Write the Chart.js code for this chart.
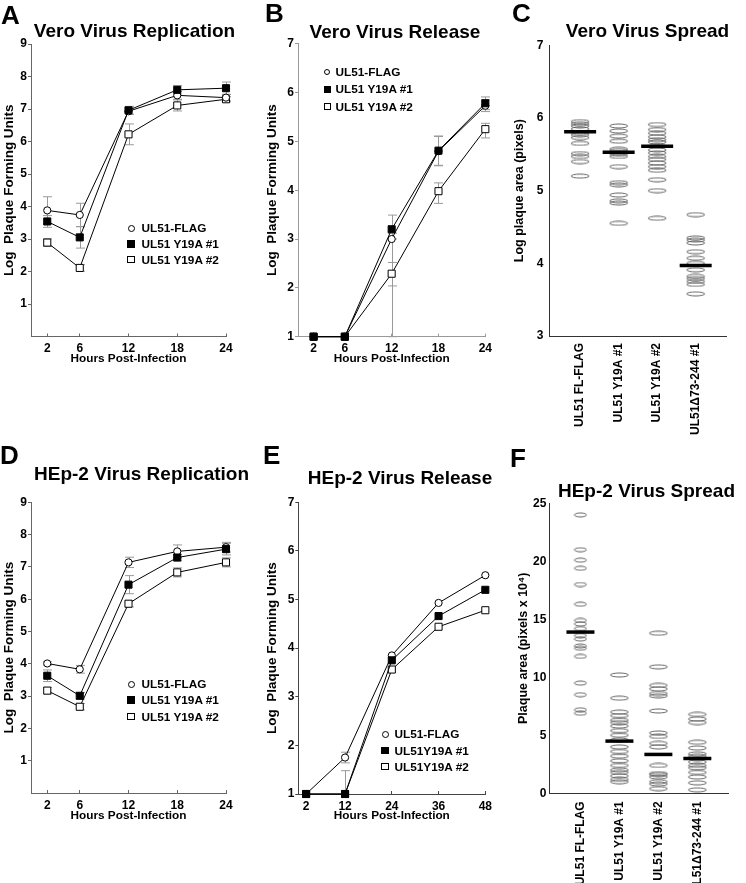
<!DOCTYPE html>
<html><head><meta charset="utf-8">
<script src="https://cdn.jsdelivr.net/npm/chart.js@4.4.1/dist/chart.umd.min.js"></script>
<style>
html,body{margin:0;padding:0;background:#fff;}
body{width:746px;height:883px;position:relative;overflow:hidden;font-family:'Liberation Sans',Arial,Helvetica,sans-serif;}
canvas{position:absolute;z-index:1;}
.t{position:absolute;font-weight:bold;color:#000;white-space:nowrap;z-index:2;}
.letter{font-size:26px;line-height:26px;}
.title{font-size:19px;line-height:19px;width:300px;text-align:center;}
.lg{font-size:11.8px;line-height:14px;}
.mk{position:absolute;box-sizing:border-box;border:1px solid #000;background:#fff;z-index:2;}
</style></head><body>
<div class="t letter" style="left:1px;top:1.6px">A</div>
<div class="t letter" style="left:265px;top:0px">B</div>
<div class="t letter" style="left:512px;top:0px">C</div>
<div class="t letter" style="left:0px;top:441.6px">D</div>
<div class="t letter" style="left:263px;top:441.6px">E</div>
<div class="t letter" style="left:510px;top:445px">F</div>
<div class="t title" style="left:-15.5px;top:21px">Vero Virus Replication</div>
<div class="t title" style="left:245px;top:21.9px">Vero Virus Release</div>
<div class="t title" style="left:497.5px;top:21px">Vero Virus Spread</div>
<div class="t title" style="left:-8.5px;top:464.4px">HEp-2 Virus Replication</div>
<div class="t title" style="left:250px;top:468.4px">HEp-2 Virus Release</div>
<div class="t title" style="left:496.5px;top:480.7px">HEp-2 Virus Spread</div>
<canvas id="cA" width="250" height="400" style="left:0;top:0"></canvas>
<canvas id="cB" width="250" height="400" style="left:250px;top:0"></canvas>
<canvas id="cC" width="246" height="440" style="left:500px;top:0"></canvas>
<canvas id="cD" width="250" height="443" style="left:0;top:440px"></canvas>
<canvas id="cE" width="250" height="443" style="left:250px;top:440px"></canvas>
<canvas id="cF" width="246" height="443" style="left:500px;top:440px"></canvas>
<script>
// ---------------- DATA ----------------
const hoursVero = [2, 6, 12, 18, 24];
const hoursHEpRelease = [2, 12, 24, 36, 48];
const seriesNames = ['UL51-FLAG', 'UL51 Y19A #1', 'UL51 Y19A #2'];
const seriesNamesE = ['UL51-FLAG', 'UL51Y19A #1', 'UL51Y19A #2'];
const yTicksReplication = [1, 2, 3, 4, 5, 6, 7, 8, 9];
const yTicksRelease = [1, 2, 3, 4, 5, 6, 7];

// A: Vero replication (log PFU)
const aFlag = [3.88, 3.74, 6.93, 7.42, 7.35];
const aY1 = [3.54, 3.05, 6.96, 7.59, 7.64];
const aY2 = [2.89, 2.11, 6.22, 7.11, 7.30];
const aFlagErr = [0.42, 0.36, 0.10, 0.12, 0.10];
const aY1Err = [0.18, 0.33, 0.12, 0.13, 0.19];
const aY2Err = [0.12, 0.10, 0.32, 0.17, 0.08];

// B: Vero release (log PFU)
const bFlag = [1, 1, 3.00, 4.80, 5.73];
const bY1 = [1, 1, 3.20, 4.81, 5.78];
const bY2 = [1, 1, 2.29, 3.98, 5.25];
const bFlagErrUp = [0, 0, 0.12, 0.30, 0.12];
const bFlagErrDown = [0, 0, 2.00, 0.30, 0.12];
const bY1ErrUp = [0, 0, 0.29, 0.30, 0.13];
const bY1ErrDown = [0, 0, 0.20, 0.30, 0.13];
const bY2ErrUp = [0, 0, 0.23, 0.17, 0.12];
const bY2ErrDown = [0, 0, 0.25, 0.25, 0.18];

// C: Vero spread (log plaque area)
const spreadCategories = ['UL51 FL-FLAG', 'UL51 Y19A #1', 'UL51 Y19A #2', 'UL51\u039473-244 #1'];
const cFlag = [5.95, 5.92, 5.89, 5.85, 5.80, 5.77, 5.73, 5.65, 5.51, 5.47, 5.40, 5.20];
const cY1 = [5.89, 5.82, 5.75, 5.68, 5.57, 5.55, 5.52, 5.50, 5.47, 5.33, 5.11, 5.08, 4.94, 4.86, 4.83, 4.55];
const cY2 = [5.91, 5.84, 5.79, 5.74, 5.70, 5.67, 5.61, 5.56, 5.52, 5.47, 5.43, 5.38, 5.33, 5.28, 5.15, 5.00, 4.62];
const cDel = [4.67, 4.35, 4.32, 4.28, 4.16, 4.07, 4.00, 3.91, 3.82, 3.79, 3.75, 3.71, 3.58];
const cMedians = [5.81, 5.53, 5.61, 3.97];
const yTicksC = [3, 4, 5, 6, 7];

// D: HEp-2 replication (log PFU)
const dFlag = [4.01, 3.83, 7.14, 7.48, 7.61];
const dY1 = [3.63, 3.01, 6.45, 7.29, 7.55];
const dY2 = [3.17, 2.67, 5.86, 6.83, 7.14];
const dFlagErr = [0.05, 0.12, 0.16, 0.20, 0.15];
const dY1Err = [0.18, 0.10, 0.28, 0.10, 0.18];
const dY2Err = [0.10, 0.10, 0.10, 0.14, 0.14];

// E: HEp-2 release (log PFU)
const eFlag = [1, 1.75, 3.85, 4.93, 5.50];
const eY1 = [1, 1, 3.75, 4.66, 5.20];
const eY2 = [1, 1, 3.56, 4.44, 4.78];
const eFlagErrUp = [0, 0.11, 0, 0, 0];
const eFlagErrDown = [0, 0.11, 0, 0, 0];
const eY1ErrUp = [0, 0.48, 0, 0, 0];
const eY1ErrDown = [0, 0, 0, 0, 0];
const eY2ErrUp = [0, 0, 0, 0, 0];
const eY2ErrDown = [0, 0, 0, 0, 0];

// F: HEp-2 spread (plaque area, pixels x 10^4)
const fFlag = [24.0, 21.0, 20.1, 19.4, 18.0, 16.3, 14.9, 14.6, 14.2, 13.6, 13.3, 12.7, 12.5, 11.8, 9.5, 8.5, 7.2, 6.9];
const fY1 = [10.2, 8.2, 7.0, 6.7, 6.3, 6.1, 5.8, 5.4, 5.0, 4.6, 4.0, 3.6, 3.2, 2.8, 2.4, 2.0, 1.8, 1.5, 1.2, 1.0];
const fY2 = [13.8, 10.9, 9.3, 9.0, 8.6, 8.4, 7.1, 5.2, 4.9, 4.3, 4.0, 2.4, 1.7, 1.6, 1.4, 1.0, 0.8, 0.4];
const fDel = [6.8, 6.4, 6.1, 4.4, 3.9, 3.4, 3.2, 3.0, 2.7, 2.4, 2.2, 1.8, 1.4, 0.9, 0.3];
const fMedians = [13.9, 4.5, 3.35, 3.0];
const yTicksF = [0, 5, 10, 15, 20, 25];

// ---------------- RENDERING ----------------
const FONT = "'Liberation Sans', Arial, Helvetica, sans-serif";
const tickFont = {family: FONT, size: 12, weight: 'bold'};

function errPlugin(bars) {
  return {
    id: 'errbars',
    beforeDatasetsDraw(chart) {
      const ctx = chart.ctx, xs = chart.scales.x, ys = chart.scales.y;
      ctx.save();
      ctx.strokeStyle = '#9a9a9a';
      ctx.lineWidth = 1;
      bars.forEach(b => {
        b.x.forEach((xv, i) => {
          const v = b.y[i], up = b.up[i], dn = b.down[i];
          if (!up && !dn) return;
          const px = Math.round(xs.getPixelForValue(xv)) + 0.5;
          const pt = ys.getPixelForValue(v + up), pb = ys.getPixelForValue(v - dn);
          ctx.beginPath();
          ctx.moveTo(px, pt); ctx.lineTo(px, pb);
          if (up) { ctx.moveTo(px - 4.5, pt); ctx.lineTo(px + 4.5, pt); }
          if (dn) { ctx.moveTo(px - 4.5, pb); ctx.lineTo(px + 4.5, pb); }
          ctx.stroke();
        });
      });
      ctx.restore();
    }
  };
}

const markerStyles = [
  {pointStyle: 'circle', pointRadius: 3.6, pointBackgroundColor: '#fff', order: 1},
  {pointStyle: 'rect', pointRadius: 5, pointBackgroundColor: '#000', order: 0},
  {pointStyle: 'rect', pointRadius: 5, pointBackgroundColor: '#fff', order: 2}
];

function timeChart(id, p) {
  const datasets = p.series.map((s, k) => Object.assign({
    label: p.names[k],
    data: p.hours.map((h, i) => ({x: h, y: s.vals[i]})),
    borderColor: '#000', borderWidth: 1,
    pointBorderColor: '#000', pointBorderWidth: 1,
    tension: 0, fill: false, clip: false
  }, markerStyles[k]));
  const bars = p.series.map(s => ({x: p.hours, y: s.vals, up: s.up, down: s.down}));
  return new Chart(document.getElementById(id), {
    type: 'line',
    data: {datasets},
    plugins: [errPlugin(bars)],
    options: {
      responsive: false, animation: false, devicePixelRatio: 1,
      layout: {padding: p.pad},
      plugins: {legend: {display: false}, tooltip: {enabled: false}},
      scales: {
        x: {
          type: 'linear', min: p.xMin, max: p.xMax,
          afterBuildTicks: s => { s.ticks = p.xTicks.map(v => ({value: v})); },
          afterFit: s => { s.height = p.xHeight; },
          ticks: {font: tickFont, color: '#000', padding: 8, autoSkip: false, maxRotation: 0, minRotation: 0},
          grid: {display: true, drawOnChartArea: false, drawTicks: true, tickLength: -3, color: p.axisColor, lineWidth: 1},
          border: {display: true, color: p.axisColor, width: 1},
          title: {display: true, text: 'Hours Post-Infection', color: '#000',
                  font: {family: FONT, size: 11.8, weight: 'bold'}, padding: {top: 0, bottom: p.xTitlePad}}
        },
        y: {
          type: 'linear', min: p.yMin, max: p.yMax,
          afterBuildTicks: s => { s.ticks = p.yTicks.map(v => ({value: v})); },
          afterFit: s => { s.width = p.yWidth; },
          ticks: {font: tickFont, color: '#000', padding: 1},
          grid: {display: true, drawOnChartArea: false, drawTicks: true, tickLength: 3, color: p.axisColor, lineWidth: 1},
          border: {display: true, color: p.axisColor, width: 1},
          title: {display: true, text: 'Log  Plaque Forming Units', color: '#000',
                  font: {family: FONT, size: 13.5, weight: 'bold'}, padding: {top: p.yTitlePad, bottom: 0}}
        }
      }
    }
  });
}

function makeEllipse(w, h, color) {
  const c = document.createElement('canvas');
  c.width = w + 2; c.height = h + 2;
  const g = c.getContext('2d');
  g.strokeStyle = color; g.lineWidth = 1;
  g.beginPath();
  g.ellipse(c.width / 2, c.height / 2, w / 2, h / 2, 0, 0, Math.PI * 2);
  g.stroke();
  return c;
}

function spreadChart(id, p) {
  const datasets = [{
    type: 'scatter', label: 'median',
    data: p.medians.map((m, i) => ({x: i + 1, y: m})),
    pointStyle: 'line', pointRadius: p.medW / 2, pointBorderWidth: 3.5,
    pointBorderColor: '#000', pointBackgroundColor: '#000', showLine: false, order: 0, clip: false
  }];
  p.groups.forEach((g, i) => datasets.push({
    type: 'scatter', label: p.cats[i],
    data: g.map(v => ({x: i + 1, y: v})),
    pointStyle: p.ellipses[i], pointRadius: 8, showLine: false, order: 1, clip: false
  }));
  return new Chart(document.getElementById(id), {
    type: 'scatter',
    data: {datasets},
    options: {
      responsive: false, animation: false, devicePixelRatio: 1,
      layout: {padding: p.pad},
      plugins: {legend: {display: false}, tooltip: {enabled: false}},
      scales: {
        x: {
          type: 'linear', min: 0.2, max: 4.8,
          afterBuildTicks: s => { s.ticks = p.cats.map((c, i) => ({value: i + 1})); },
          afterFit: s => { s.height = p.xHeight; },
          ticks: {font: tickFont, color: '#000', padding: p.xTickPad, autoSkip: false, maxRotation: 90, minRotation: 90,
                  callback: v => p.cats[v - 1] || ''},
          grid: {display: true, drawOnChartArea: false, drawTicks: false, color: '#333'},
          border: {display: true, color: '#333', width: 1}
        },
        y: {
          type: 'linear', min: p.yMin, max: p.yMax,
          afterBuildTicks: s => { s.ticks = p.yTicks.map(v => ({value: v})); },
          afterFit: s => { s.width = p.yWidth; },
          ticks: {font: tickFont, color: '#000', padding: p.yTickPad},
          grid: {display: true, drawOnChartArea: false, drawTicks: false, color: '#333'},
          border: {display: true, color: '#333', width: 1},
          title: {display: true, text: p.yTitle, color: '#000',
                  font: {family: FONT, size: 12.5, weight: 'bold'}, padding: {top: p.yTitlePad, bottom: 0}}
        }
      }
    }
  });
}

function addLegend(names, mx, rows, tx, msize) {
  names.forEach((n, k) => {
    const m = document.createElement('div');
    m.className = 'mk';
    const s = k === 0 ? msize - 0.5 : msize;
    m.style.width = s + 'px'; m.style.height = s + 'px';
    m.style.left = (mx - s / 2) + 'px'; m.style.top = (rows[k] - s / 2) + 'px';
    if (k === 0) m.style.borderRadius = '50%';
    if (k === 1) m.style.background = '#000';
    document.body.appendChild(m);
    const t = document.createElement('div');
    t.className = 't lg';
    t.textContent = n;
    t.style.left = tx + 'px'; t.style.top = (rows[k] - 7) + 'px';
    document.body.appendChild(t);
  });
}

// A
timeChart('cA', {
  names: seriesNames, hours: hoursVero,
  series: [{vals: aFlag, up: aFlagErr, down: aFlagErr}, {vals: aY1, up: aY1Err, down: aY1Err}, {vals: aY2, up: aY2Err, down: aY2Err}],
  xMin: 0, xMax: 24, xTicks: hoursVero, yMin: 0, yMax: 9, yTicks: yTicksReplication,
  pad: {left: 0, top: 44, right: 24, bottom: 0}, yWidth: 31, xHeight: 63.5, xTitlePad: 33.8, yTitlePad: 1.4, axisColor: '#666'
});
// B
timeChart('cB', {
  names: seriesNames, hours: hoursVero,
  series: [{vals: bFlag, up: bFlagErrUp, down: bFlagErrDown}, {vals: bY1, up: bY1ErrUp, down: bY1ErrDown}, {vals: bY2, up: bY2ErrUp, down: bY2ErrDown}],
  xMin: 0, xMax: 24, xTicks: hoursVero, yMin: 1, yMax: 7, yTicks: yTicksRelease,
  pad: {left: 0, top: 43.7, right: 8.3, bottom: 0}, yWidth: 48, xHeight: 63.3, xTitlePad: 33.8, yTitlePad: 14.4, axisColor: '#999'
});
// D
timeChart('cD', {
  names: seriesNames, hours: hoursVero,
  series: [{vals: dFlag, up: dFlagErr, down: dFlagErr}, {vals: dY1, up: dY1Err, down: dY1Err}, {vals: dY2, up: dY2Err, down: dY2Err}],
  xMin: 0, xMax: 24, xTicks: hoursVero, yMin: 0, yMax: 9, yTicks: yTicksReplication,
  pad: {left: 0, top: 62.3, right: 24, bottom: 0}, yWidth: 31, xHeight: 90, xTitlePad: 59.8, yTitlePad: 1.4, axisColor: '#666'
});
// E
timeChart('cE', {
  names: seriesNamesE, hours: hoursHEpRelease,
  series: [{vals: eFlag, up: eFlagErrUp, down: eFlagErrDown}, {vals: eY1, up: eY1ErrUp, down: eY1ErrDown}, {vals: eY2, up: eY2ErrUp, down: eY2ErrDown}],
  xMin: 0, xMax: 48, xTicks: hoursHEpRelease, yMin: 1, yMax: 7, yTicks: yTicksRelease,
  pad: {left: 0, top: 62.3, right: 9.3, bottom: 0}, yWidth: 48.3, xHeight: 89, xTitlePad: 59.8, yTitlePad: 13.9, axisColor: '#444'
});
// C
const ellC = makeEllipse(18, 4, '#666');
spreadChart('cC', {
  cats: spreadCategories, groups: [cFlag, cY1, cY2, cDel], medians: cMedians, medW: 32,
  ellipses: [ellC, ellC, ellC, ellC],
  yMin: 3, yMax: 7, yTicks: yTicksC, yTitle: 'Log plaque area (pixels)',
  pad: {left: 0, top: 45.3, right: 1, bottom: 0}, yWidth: 49.3, xHeight: 104, xTickPad: 7, yTickPad: 6, yTitlePad: 12.5
});
// F
const ellF = makeEllipse(18, 4, '#666');
const ellFn = makeEllipse(12, 4, '#666');
spreadChart('cF', {
  cats: spreadCategories, groups: [fFlag, fY1, fY2, fDel], medians: fMedians, medW: 28,
  ellipses: [ellFn, ellF, ellF, ellF],
  yMin: 0, yMax: 25, yTicks: yTicksF, yTitle: 'Plaque area (pixels x 10\u2074)',
  pad: {left: 0, top: 63.3, right: 1, bottom: 0}, yWidth: 49.3, xHeight: 89.7, xTickPad: 8, yTickPad: 3, yTitlePad: 16.5
});

// Legends
addLegend(seriesNames, 131, [228.3, 244, 259.7], 141.5, 7.5);
addLegend(seriesNames, 327.3, [71.7, 89.3, 106.7], 335.5, 6.5);
addLegend(seriesNames, 131, [684, 700, 716.7], 141.5, 7.5);
addLegend(seriesNamesE, 385, [734.3, 750.7, 766.7], 394.5, 7.5);
</script>
</body></html>
